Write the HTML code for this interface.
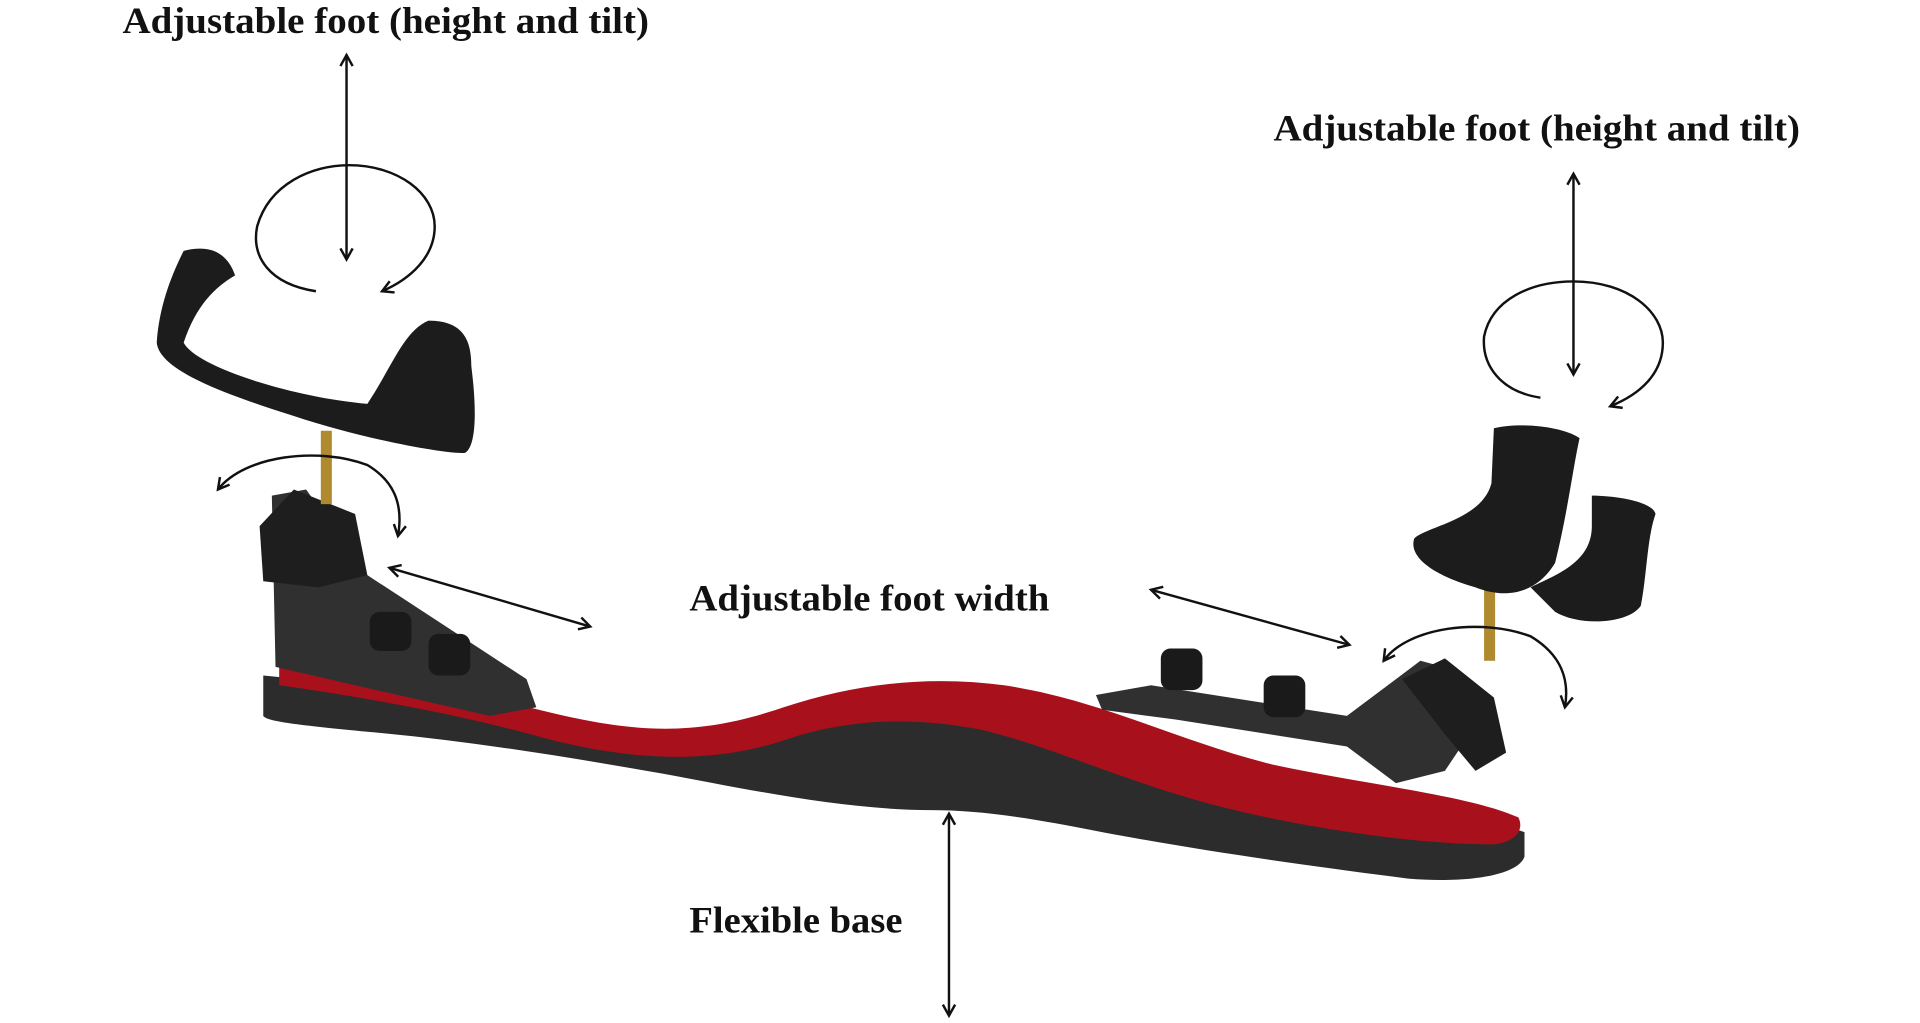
<!DOCTYPE html>
<html><head><meta charset="utf-8"><style>
html,body{margin:0;padding:0;background:#fff;}
svg{display:block}
text{font-family:"Liberation Serif",serif;font-weight:bold;font-size:30px;fill:#111}
</style></head><body>
<svg width="1920" height="1023" viewBox="0 0 1568 836" preserveAspectRatio="none" xmlns="http://www.w3.org/2000/svg">
<defs>
<marker id="a" viewBox="0 0 12 12" refX="10" refY="6" markerWidth="12" markerHeight="12" markerUnits="userSpaceOnUse" orient="auto-start-reverse">
<path d="M1,1 L10,6 L1,11" fill="none" stroke="#111" stroke-width="2"/></marker>
</defs>
<rect width="1568" height="836" fill="#fff"/>
<!-- black foam base -->
<path d="M215,552 C300,560 380,575 440,590 C520,610 560,620 640,590 C700,565 760,555 820,565 C900,580 960,620 1040,640 C1120,655 1200,665 1245,680 L1245,700 C1240,715 1200,722 1150,718 C1050,705 980,695 900,680 C840,668 800,662 760,662 C690,662 610,645 540,632 C460,618 380,605 300,598 C250,593 218,590 215,585 Z" fill="#2c2c2c"/>
<!-- red top -->
<path d="M228,545 C300,552 380,565 440,580 C520,600 570,602 640,578 C700,558 760,552 820,560 C900,572 960,605 1040,625 C1120,642 1200,650 1240,668 C1245,678 1238,688 1220,690 C1150,690 1060,675 1000,660 C920,640 860,610 800,596 C740,585 690,588 640,605 C570,628 500,618 440,602 C380,585 300,570 228,560 Z" fill="#a8101c"/>
<!-- left bracket -->
<path d="M222,405 L250,400 L300,470 L430,555 L438,578 L400,585 L290,560 L225,545 Z" fill="#303030"/>
<path d="M212,430 L240,400 L290,420 L300,470 L260,480 L215,475 Z" fill="#1e1e1e"/>
<rect x="302" y="500" width="34" height="32" rx="8" fill="#1a1a1a"/>
<rect x="350" y="518" width="34" height="34" rx="8" fill="#1a1a1a"/>
<rect x="262" y="352" width="9" height="60" fill="#b08a2e"/>
<path d="M150,205 C170,200 185,205 192,225 C175,235 160,250 150,280 C160,300 240,325 300,330 C320,300 330,270 350,262 C380,262 385,280 385,300 C390,340 388,365 380,370 C370,372 300,360 240,340 C170,318 130,300 128,280 C130,250 140,225 150,205 Z" fill="#1c1c1c"/>
<!-- right bracket -->
<path d="M895,568 L940,560 L1100,585 L1160,540 L1190,548 L1200,600 L1180,630 L1140,640 L1100,610 L960,588 L900,580 Z" fill="#303030"/>
<path d="M1145,555 L1180,538 L1220,570 L1230,615 L1205,630 L1180,600 Z" fill="#1e1e1e"/>
<rect x="948" y="530" width="34" height="34" rx="8" fill="#1a1a1a"/>
<rect x="1032" y="552" width="34" height="34" rx="8" fill="#1a1a1a"/>
<rect x="1212" y="478" width="9" height="62" fill="#b08a2e"/>
<path d="M1300,405 C1320,405 1350,410 1352,420 C1345,440 1345,470 1340,495 C1330,510 1290,512 1270,500 L1250,480 C1270,470 1300,460 1300,430 Z" fill="#1c1c1c"/>
<path d="M1220,350 C1240,345 1275,348 1290,358 C1285,380 1280,420 1270,460 C1255,485 1230,490 1205,480 C1170,470 1150,455 1155,440 C1165,430 1210,425 1218,395 Z" fill="#1c1c1c"/>
<!-- arrows -->
<g fill="none" stroke="#111" stroke-width="2">
<line x1="283" y1="45" x2="283" y2="212" marker-start="url(#a)" marker-end="url(#a)"/>
<path d="M258,238 C220,232 205,210 210,185 C220,150 255,135 285,135 C325,135 355,158 355,185 C355,210 335,228 312,238" marker-end="url(#a)"/>
<line x1="1285" y1="142" x2="1285" y2="306" marker-start="url(#a)" marker-end="url(#a)"/>
<path d="M1258,325 C1225,320 1210,298 1212,275 C1218,245 1250,230 1285,230 C1330,230 1358,255 1358,280 C1358,305 1340,322 1315,332" marker-end="url(#a)"/>
<path d="M178,400 C200,372 260,365 300,380 C320,392 330,410 325,438" marker-start="url(#a)" marker-end="url(#a)"/>
<path d="M1130,540 C1150,512 1210,505 1250,520 C1275,535 1282,555 1278,578" marker-start="url(#a)" marker-end="url(#a)"/>
<line x1="318" y1="464" x2="482" y2="512" marker-start="url(#a)" marker-end="url(#a)"/>
<line x1="940" y1="482" x2="1102" y2="527" marker-start="url(#a)" marker-end="url(#a)"/>
<line x1="775" y1="665" x2="775" y2="830" marker-start="url(#a)" marker-end="url(#a)"/>
</g>
<text x="100" y="27" textLength="430" lengthAdjust="spacingAndGlyphs">Adjustable foot (height and tilt)</text>
<text x="1040" y="115" textLength="430" lengthAdjust="spacingAndGlyphs">Adjustable foot (height and tilt)</text>
<text x="563" y="499" textLength="294" lengthAdjust="spacingAndGlyphs">Adjustable foot width</text>
<text x="563" y="762" textLength="174" lengthAdjust="spacingAndGlyphs">Flexible base</text>
</svg>
</body></html>
